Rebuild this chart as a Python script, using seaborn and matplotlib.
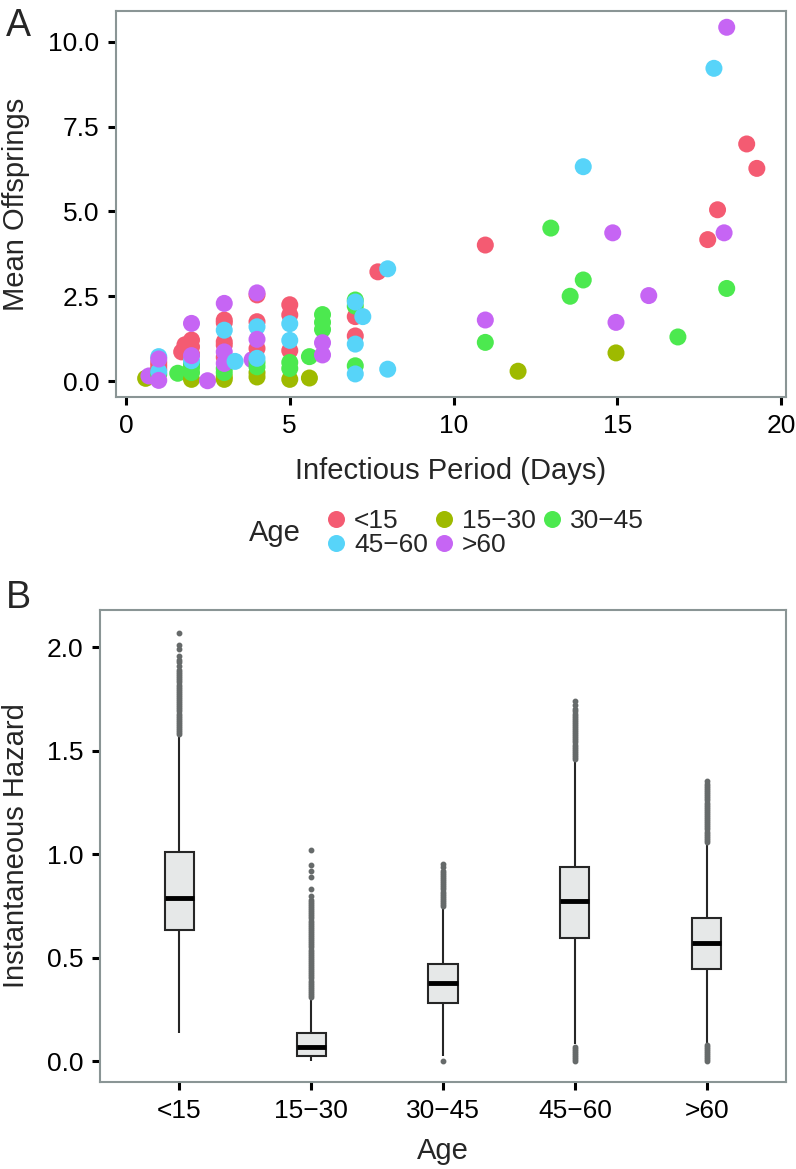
import matplotlib
matplotlib.use("Agg")
import matplotlib.pyplot as plt
import seaborn as sns
import pandas as pd
import numpy as np

# ---------------- Panel A data ----------------
age_levels = ["<15", "15\u221230", "30\u221245", "45\u221260", ">60"]
palette = ["#F45B72", "#9EBA00", "#4CE94F", "#57D4F9", "#C665F4"]

period_u15 = [1.0, 1.0, 1.0, 1.7, 1.8, 2.0, 2.0, 2.0, 3.0, 3.0, 3.0, 3.0, 3.0,
              4.0, 4.0, 4.0, 5.0, 5.0, 5.0, 7.0, 7.0, 7.69, 10.97, 17.76, 18.06, 18.95, 19.26]
offs_u15 = [0.55, 0.45, 0.35, 0.86, 1.07, 1.21, 1.01, 0.80, 1.80, 1.72, 1.16, 1.06, 0.70,
            2.54, 1.75, 0.96, 2.25, 1.95, 0.90, 1.90, 1.33, 3.22, 4.01, 4.17, 5.05, 6.99, 6.27]

period_15_30 = [0.6, 2.0, 3.0, 3.0, 4.0, 4.0, 5.0, 5.6, 11.97, 14.96]
offs_15_30 = [0.08, 0.05, 0.13, 0.05, 0.25, 0.12, 0.05, 0.09, 0.29, 0.83]

period_30_45 = [1.0, 1.58, 2.0, 2.0, 2.0, 3.0, 3.0, 4.0, 4.0, 5.0, 5.0, 5.6, 6.0, 6.0, 6.0,
                7.0, 7.0, 7.0, 10.97, 12.97, 13.56, 13.96, 16.85, 18.34]
offs_30_45 = [0.20, 0.23, 0.50, 0.40, 0.25, 0.37, 0.25, 0.55, 0.42, 0.55, 0.37, 0.72, 1.96, 1.73, 1.52,
              2.39, 2.21, 0.45, 1.14, 4.51, 2.50, 2.98, 1.30, 2.73]

period_45_60 = [1.0, 1.0, 2.0, 3.0, 3.33, 4.0, 4.0, 5.0, 5.0, 7.0, 7.23, 7.0, 7.0, 7.99, 7.99, 13.96, 17.95]
offs_45_60 = [0.72, 0.28, 0.60, 1.50, 0.58, 1.60, 0.67, 1.69, 1.20, 2.33, 1.90, 1.09, 0.21, 3.31, 0.35, 6.32, 9.22]

period_60p = [0.7, 1.0, 1.0, 2.0, 2.0, 2.49, 3.0, 3.0, 3.0, 3.85, 4.0, 4.0, 6.0, 6.0,
              10.97, 14.86, 14.96, 15.96, 18.26, 18.34]
offs_60p = [0.15, 0.65, 0.02, 1.70, 0.75, 0.01, 2.29, 0.86, 0.52, 0.63, 2.60, 1.23, 1.13, 0.77,
            1.80, 4.37, 1.73, 2.52, 4.37, 10.43]

# ---------------- Panel B data (box statistics) ----------------
box_q1 = [0.634, 0.028, 0.284, 0.594, 0.448]
box_med = [0.790, 0.070, 0.380, 0.772, 0.570]
box_q3 = [1.010, 0.138, 0.470, 0.938, 0.690]
whisk_lo = [0.138, 0.000, 0.024, 0.085, 0.090]
whisk_hi = [1.570, 0.300, 0.740, 1.450, 1.050]
out_hi = [
    [1.58, 1.59, 1.60, 1.61, 1.62, 1.63, 1.64, 1.65, 1.66, 1.67, 1.68, 1.69, 1.70, 1.71, 1.72,
     1.73, 1.74, 1.75, 1.76, 1.77, 1.78, 1.79, 1.80, 1.81, 1.82, 1.83, 1.84, 1.85, 1.86, 1.87,
     1.88, 1.89, 1.91, 1.93, 1.94, 1.96, 1.99, 2.01, 2.07],
    [0.31, 0.32, 0.33, 0.34, 0.35, 0.36, 0.37, 0.38, 0.39, 0.40, 0.41, 0.42, 0.43, 0.44, 0.45,
     0.46, 0.47, 0.48, 0.49, 0.50, 0.51, 0.52, 0.53, 0.54, 0.55, 0.56, 0.57, 0.58, 0.59, 0.60,
     0.61, 0.62, 0.63, 0.64, 0.65, 0.66, 0.67, 0.68, 0.69, 0.70, 0.71, 0.72, 0.73, 0.74, 0.75,
     0.76, 0.77, 0.78, 0.80, 0.83, 0.89, 0.92, 0.95, 1.02],
    [0.75, 0.76, 0.77, 0.78, 0.79, 0.80, 0.81, 0.82, 0.83, 0.84, 0.85, 0.86, 0.87, 0.88, 0.89,
     0.90, 0.91, 0.92, 0.94, 0.955],
    [1.46, 1.47, 1.48, 1.49, 1.50, 1.51, 1.52, 1.53, 1.54, 1.55, 1.56, 1.57, 1.58, 1.59, 1.60,
     1.61, 1.62, 1.63, 1.64, 1.65, 1.66, 1.67, 1.68, 1.69, 1.70, 1.72, 1.74],
    [1.06, 1.07, 1.08, 1.09, 1.10, 1.11, 1.12, 1.13, 1.14, 1.15, 1.16, 1.17, 1.18, 1.19, 1.20,
     1.21, 1.22, 1.23, 1.24, 1.25, 1.26, 1.27, 1.28, 1.29, 1.30, 1.31, 1.32, 1.33, 1.34, 1.355],
]
out_lo = [
    [],
    [],
    [0.0],
    [0.0, 0.01, 0.02, 0.03, 0.04, 0.05, 0.06, 0.07],
    [0.0, 0.01, 0.02, 0.03, 0.04, 0.05, 0.06, 0.07, 0.08],
]

# ---------------- styling ----------------
sns.set_style("white")
plt.rcParams["font.family"] = ["Liberation Sans", "DejaVu Sans"]
plt.rcParams["axes.unicode_minus"] = True

spine_col = "#8A9595"
TICK = 19
TITLE = 21

fig = plt.figure(figsize=(7.96, 11.69), dpi=100)
W, H = 796.0, 1169.0

def frac_axes(l, t, r, b):
    return fig.add_axes([l / W, 1 - b / H, (r - l) / W, (b - t) / H])

# ---------------- Panel A ----------------
axA = frac_axes(116, 11, 786, 397)
dfA = pd.DataFrame({
    "period": period_u15 + period_15_30 + period_30_45 + period_45_60 + period_60p,
    "offs": offs_u15 + offs_15_30 + offs_30_45 + offs_45_60 + offs_60p,
    "Age": ([age_levels[0]] * len(period_u15) + [age_levels[1]] * len(period_15_30)
            + [age_levels[2]] * len(period_30_45) + [age_levels[3]] * len(period_45_60)
            + [age_levels[4]] * len(period_60p)),
})
dfA = dfA.sort_values("period", kind="stable").reset_index(drop=True)
sns.scatterplot(data=dfA, x="period", y="offs", hue="Age", hue_order=age_levels,
                palette=palette, s=150, linewidth=0, alpha=1, ax=axA, legend=True)
handles, labels = axA.get_legend_handles_labels()
axA.get_legend().remove()

axA.set_xlim(-0.305, 20.15)
axA.set_ylim(-0.47, 10.91)
axA.set_xticks([0, 5, 10, 15, 20])
axA.set_xticklabels(["0", "5", "10", "15", "20"])
axA.set_yticks([0, 2.5, 5, 7.5, 10])
axA.set_yticklabels(["0.0", "2.5", "5.0", "7.5", "10.0"])
axA.set_xlabel("Infectious Period (Days)", fontsize=TITLE)
axA.set_ylabel("Mean Offsprings", fontsize=TITLE)
axA.xaxis.set_label_coords(0.5, (397 - 471) / 386.0)
axA.xaxis.label.set_va("center")
axA.yaxis.set_label_coords((16 - 116) / 670.0, 0.5)
axA.yaxis.label.set_va("center")

# legend (row-major like ggplot)
hmap = dict(zip(labels, handles))
order = [age_levels[0], age_levels[3], age_levels[1], age_levels[4], age_levels[2]]
leg = fig.legend([hmap[k] for k in order], order, loc="center left",
                 bbox_to_anchor=(325 / W, 1 - 533 / H), ncol=3, frameon=False,
                 fontsize=TICK, handlelength=0.8, handletextpad=0.3, columnspacing=0.2,
                 labelspacing=0.02, borderpad=0, borderaxespad=0, markerscale=1.0)
fig.text(249 / W, 1 - 533 / H, "Age", fontsize=TITLE, ha="left", va="center")

# ---------------- Panel B ----------------
axB = frac_axes(100, 610, 786, 1082)
M = 200
rows_age, rows_val = [], []
for i, lev in enumerate(age_levels):
    L = out_lo[i] + [whisk_lo[i]]
    U = [whisk_hi[i]] + out_hi[i]
    vals = L + [box_q1[i]] * (M - len(L)) + [box_med[i]] + [box_q3[i]] * (M - len(U)) + U
    rows_val += vals
    rows_age += [lev] * len(vals)
dfB = pd.DataFrame({"Age": rows_age, "Hazard": rows_val})

sns.boxplot(data=dfB, x="Age", y="Hazard", order=age_levels, ax=axB, width=0.22,
            color="#E6E8E8", saturation=1, linecolor="#262626", linewidth=1.5,
            showcaps=False, whis=1.5,
            flierprops=dict(marker="o", markersize=3.2, markerfacecolor="#666a6a",
                            markeredgecolor="#666a6a"),
            medianprops=dict(color="black", linewidth=3.5))
axB.set_xlim(-0.6, 4.6)
axB.set_ylim(-0.1, 2.18)
axB.set_yticks([0, 0.5, 1.0, 1.5, 2.0])
axB.set_yticklabels(["0.0", "0.5", "1.0", "1.5", "2.0"])
axB.set_xlabel("Age", fontsize=TITLE)
axB.set_ylabel("Instantaneous Hazard", fontsize=TITLE)
axB.xaxis.set_label_coords(0.5, (1082 - 1151) / 472.0)
axB.xaxis.label.set_va("center")
axB.yaxis.set_label_coords((16 - 100) / 686.0, 0.5)
axB.yaxis.label.set_va("center")

for ax in (axA, axB):
    for s in ax.spines.values():
        s.set_visible(True)
        s.set_color(spine_col)
        s.set_linewidth(1.5)
    ax.tick_params(axis="both", which="major", direction="out", length=6, width=2.2,
                   color="black", labelsize=TICK, labelcolor="black", pad=6,
                   bottom=True, left=True)
    ax.grid(False)
    ax.set_facecolor("white")

fig.text(6 / W, 1 - 8 / H, "A", fontsize=27, ha="left", va="top")
fig.text(6 / W, 1 - 580 / H, "B", fontsize=27, ha="left", va="top")

fig.savefig("out.png", dpi=100, facecolor="white")
